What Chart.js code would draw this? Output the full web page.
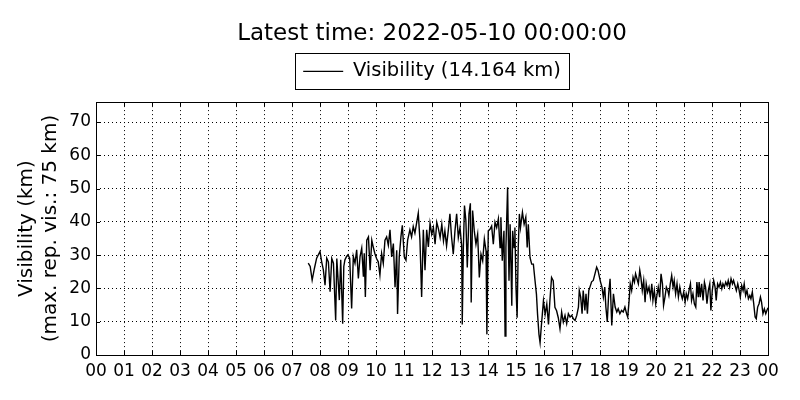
<!DOCTYPE html>
<html>
<head>
<meta charset="utf-8">
<script src="https://cdn.jsdelivr.net/npm/chart.js@4.4.0/dist/chart.umd.min.js"></script>
<style>
  html, body { margin: 0; padding: 0; background: #fff; }
  #wrap { width: 800px; height: 400px; }
</style>
</head>
<body>
<div id="wrap"><canvas id="visChart"></canvas></div>
<script>
var latestTime = "2022-05-10 00:00:00";
var latestVis = 14.164;
var maxRepVis = 75;
var hourTicks = [0, 1, 2, 3, 4, 5, 6, 7, 8, 9, 10, 11, 12, 13, 14, 15, 16, 17, 18, 19, 20, 21, 22, 23, 24];
var visTicks = [0, 10, 20, 30, 40, 50, 60, 70];

// time of day in hours
var times = [
  7.58, 7.65, 7.72, 7.80, 7.88, 8.00, 8.06, 8.12, 8.18, 8.24, 8.30, 8.36, 8.42, 8.48, 8.56, 8.60,
  8.69, 8.74, 8.81, 8.85, 8.89, 8.95, 9.00, 9.06, 9.13, 9.19, 9.25, 9.31, 9.37, 9.43, 9.49, 9.55,
  9.58, 9.62,
  9.67, 9.73, 9.79, 9.85, 9.90, 9.96, 10.02, 10.08, 10.14, 10.20, 10.26, 10.32, 10.38, 10.44,
  10.50, 10.56, 10.62, 10.68, 10.74, 10.77, 10.83, 10.89, 10.94, 11.01, 11.07, 11.13, 11.21,
  11.27, 11.33, 11.39, 11.45, 11.51, 11.57, 11.63, 11.69, 11.75, 11.81, 11.87, 11.93,
  11.99, 12.05, 12.11, 12.17, 12.23, 12.29, 12.35, 12.41, 12.46, 12.52, 12.58, 12.64, 12.70,
  12.76, 12.82, 12.88, 12.94, 13.00, 13.06, 13.08, 13.12, 13.16, 13.21, 13.26, 13.32, 13.37,
  13.40, 13.45, 13.51, 13.57, 13.63, 13.69, 13.75, 13.81, 13.87, 13.93, 13.96, 14.01, 14.07,
  14.13, 14.19, 14.25,
  14.31, 14.37, 14.43, 14.46, 14.51, 14.57, 14.61, 14.64, 14.70, 14.75, 14.79, 14.85, 14.88,
  14.93, 14.96, 15.00, 15.04, 15.08, 15.12, 15.16, 15.23, 15.29, 15.35, 15.40, 15.44, 15.50,
  15.56, 15.62, 15.68, 15.73, 15.77, 15.82, 15.86, 15.90, 15.94, 15.98, 16.04, 16.10, 16.16,
  16.21, 16.27, 16.33, 16.39, 16.45, 16.51, 16.57,
  16.63, 16.69, 16.75, 16.81, 16.87, 16.93, 16.99, 17.05, 17.11, 17.17, 17.23, 17.26, 17.31,
  17.36, 17.40, 17.46, 17.50, 17.55, 17.60, 17.64, 17.70, 17.76, 17.82, 17.88, 17.93, 17.98,
  18.02, 18.07, 18.12, 18.17, 18.21, 18.26, 18.31, 18.36, 18.42, 18.48, 18.54, 18.60, 18.65,
  18.71, 18.77, 18.83, 18.89, 18.95,
  18.99, 19.04, 19.08, 19.13, 19.18, 19.23, 19.27, 19.32, 19.37, 19.42, 19.46, 19.51, 19.56,
  19.61, 19.65, 19.70, 19.75, 19.80, 19.85, 19.89, 19.94, 19.99, 20.04, 20.08, 20.13, 20.18,
  20.23, 20.27, 20.32, 20.37, 20.42, 20.46, 20.51, 20.56, 20.61, 20.65, 20.70, 20.75, 20.80,
  20.85, 20.89, 20.94, 20.99, 21.04, 21.08, 21.13, 21.18, 21.23, 21.27, 21.32, 21.37, 21.42,
  21.46, 21.51,
  21.54, 21.58, 21.63, 21.68, 21.73, 21.77, 21.82, 21.87, 21.92, 21.96, 22.01, 22.06, 22.11,
  22.15, 22.20, 22.25, 22.30, 22.35, 22.39, 22.44, 22.49, 22.54, 22.58, 22.63, 22.68, 22.73,
  22.77, 22.82, 22.87, 22.92, 22.96, 23.01, 23.06, 23.11, 23.15, 23.20, 23.25, 23.30, 23.35,
  23.39, 23.44, 23.49, 23.54, 23.58, 23.63, 23.68, 23.73, 23.77, 23.82, 23.87, 23.92, 23.96,
  24.00
];

// visibility in km
var visibility = [
  27.6, 26.6, 22.5, 26.0, 29.1, 31.1, 28.0, 25.6, 21.0, 29.1, 28.0, 19.0, 29.0, 27.6, 10.4, 29.0,
  16.5, 28.6, 9.4, 26.6, 28.6, 29.6, 30.1, 29.1, 14.0, 29.6, 27.6, 31.6, 23.0, 29.6, 32.1, 23.5,
  30.6, 17.4,
  34.5, 35.5, 25.5, 34.5, 32.5, 30.5, 29.0, 28.0, 24.0, 30.5, 27.5, 34.5, 35.5, 33.0,
  37.6, 29.5, 33.5, 20.4, 31.5, 12.3, 29.5, 35.5, 39.0, 29.5, 28.5, 34.5, 37.6,
  35.5, 38.6, 36.6, 39.6, 42.6, 34.5, 17.4, 37.6, 25.5, 37.6, 32.5, 39.6,
  36.3, 38.3, 33.3, 39.9, 37.9, 35.3, 39.3, 34.3, 37.3, 32.8, 37.3, 42.4, 35.3,
  30.3, 37.3, 42.4, 35.3, 38.3, 32.8, 9.2, 32.3, 44.9, 40.4, 26.3, 42.4, 45.6,
  15.8, 43.4, 37.3, 33.3, 36.3, 23.3, 30.3, 28.3, 34.8, 31.3, 6.2, 37.3, 37.8,
  38.8, 33.3, 39.9,
  38.3, 40.9, 32.3, 41.4, 28.3, 37.3, 5.7, 32.3, 50.4, 22.3, 39.3, 14.8, 37.3,
  32.3, 38.3, 20.3, 11.2, 32.3, 42.4, 38.3, 42.9, 39.3, 41.4, 32.3, 39.3, 29.3,
  27.3, 27.3, 22.3, 18.3, 12.2, 6.2, 3.7, 8.2, 12.2, 16.3, 12.2, 15.3, 9.2,
  16.3, 23.3, 22.3, 14.3, 13.3, 11.2, 7.9,
  12.9, 9.9, 11.9, 9.4, 12.4, 11.4, 11.9, 10.9, 10.4, 11.9, 14.4, 19.4, 17.4,
  12.4, 19.4, 13.4, 18.4, 12.4, 19.4, 20.4, 22.0, 22.4, 24.4, 26.4, 25.4, 23.4,
  21.9, 20.4, 17.4, 20.4, 14.4, 9.9, 18.4, 22.9, 8.9, 18.4, 14.4, 12.9, 13.9,
  12.4, 13.4, 12.9, 14.4, 12.4,
  11.4, 16.4, 21.4, 19.4, 23.4, 21.9, 24.4, 22.9, 21.4, 25.5, 23.4, 19.4, 22.4,
  15.9, 21.4, 18.9, 20.4, 17.4, 21.4, 16.4, 19.4, 15.4, 18.4, 20.4, 17.4, 24.4,
  21.4, 14.9, 17.4, 20.4, 19.4, 17.9, 21.4, 23.9, 20.4, 22.4, 18.4, 21.4, 17.4,
  20.4, 18.4, 16.9, 18.9, 15.9, 18.4, 16.9, 19.4, 21.4, 16.4, 18.4, 15.4, 14.4,
  21.9, 17.4,
  21.9, 17.4, 21.4, 16.4, 21.9, 20.4, 15.4, 19.4, 21.4, 13.4, 19.4, 22.4, 20.4,
  16.4, 21.4, 20.4, 21.9, 19.9, 21.4, 20.4, 21.9, 20.9, 22.4, 20.4, 22.9, 21.4,
  22.4, 20.9, 19.4, 21.4, 19.9, 17.4, 20.9, 19.4, 21.4, 17.9, 19.4, 16.9, 17.9,
  16.9, 18.9, 15.4, 11.4, 10.9, 14.4, 15.4, 17.4, 15.9, 12.4, 13.9, 12.4, 13.4,
  14.164
];

var points = [];
for (var i = 0; i < times.length; i++) {
  points.push({ x: times[i], y: visibility[i] });
}

Chart.defaults.font.family = "'DejaVu Sans', sans-serif";
Chart.defaults.color = '#000';

// black frame around plot area, inward ticks, and box round the legend
var framePlugin = {
  id: 'frame',
  afterDraw: function(chart) {
    var ctx = chart.ctx;
    var a = chart.chartArea;
    ctx.save();
    ctx.strokeStyle = '#000';
    ctx.lineWidth = 1;
    ctx.beginPath();
    hourTicks.forEach(function(h) {
      var px = Math.round(chart.scales.x.getPixelForValue(h)) + 0.5;
      ctx.moveTo(px, a.bottom); ctx.lineTo(px, a.bottom - 4);
      ctx.moveTo(px, a.top); ctx.lineTo(px, a.top + 4);
    });
    visTicks.forEach(function(v) {
      var py = Math.round(chart.scales.y.getPixelForValue(v)) + 0.5;
      ctx.moveTo(a.left, py); ctx.lineTo(a.left + 4, py);
      ctx.moveTo(a.right, py); ctx.lineTo(a.right - 4, py);
    });
    ctx.stroke();
    ctx.strokeRect(Math.round(a.left) + 0.5, Math.round(a.top) + 0.5,
      Math.round(a.right - a.left), Math.round(a.bottom - a.top));
    var hb = chart.legend.legendHitBoxes[0];
    if (hb) {
      var cy = hb.top + hb.height / 2;
      ctx.strokeRect(Math.round(hb.left - 8) + 0.5, Math.round(cy - 18) + 0.5,
        Math.round(hb.width + 16), 36);
    }
    ctx.restore();
  }
};

var ctxV = document.getElementById('visChart').getContext('2d');
var visChart = new Chart(ctxV, {
  type: 'line',
  data: {
    datasets: [{
      label: 'Visibility (' + latestVis.toFixed(3) + ' km)',
      data: points,
      borderColor: '#000',
      backgroundColor: '#000',
      borderWidth: 1.4,
      pointRadius: 0,
      tension: 0,
      fill: false
    }]
  },
  options: {
    responsive: true,
    maintainAspectRatio: false,
    animation: false,
    layout: { padding: { left: 15, right: 32, top: 0, bottom: 0 } },
    plugins: {
      title: {
        display: true,
        fullSize: false,
        text: 'Latest time: ' + latestTime,
        color: '#000',
        font: { size: 23, weight: 'normal' },
        padding: { top: 20, bottom: 4 }
      },
      legend: {
        display: true,
        fullSize: false,
        position: 'top',
        labels: {
          color: '#000',
          font: { size: 19.5 },
          usePointStyle: true,
          pointStyle: 'line',
          pointStyleWidth: 40,
          padding: 10
        }
      },
      tooltip: { enabled: false }
    },
    scales: {
      x: {
        type: 'linear',
        min: 0,
        max: 24,
        afterBuildTicks: function(scale) {
          scale.ticks = hourTicks.map(function(h) { return { value: h }; });
        },
        afterFit: function(scale) { scale.height = 45; },
        ticks: {
          color: '#000',
          font: { size: 17 },
          padding: 6,
          maxRotation: 0,
          autoSkip: false,
          callback: function(value) {
            var h = value % 24;
            return (h < 10 ? '0' : '') + h;
          }
        },
        grid: { color: '#000', lineWidth: 1, drawTicks: false },
        border: { display: false, dash: [1, 3] }
      },
      // empty spacer between legend and plot
      xTop: {
        type: 'linear',
        position: 'top',
        min: 0,
        max: 24,
        afterFit: function(scale) { scale.height = 11; },
        ticks: { display: false },
        grid: { display: false, drawTicks: false },
        border: { display: false }
      },
      y: {
        min: 0,
        max: 76,
        afterBuildTicks: function(scale) {
          scale.ticks = visTicks.map(function(v) { return { value: v }; });
        },
        afterFit: function(scale) { scale.width = 81; },
        ticks: {
          color: '#000',
          font: { size: 17 },
          padding: 5
        },
        title: {
          display: true,
          text: ['Visibility (km)', '(max. rep. vis.: ' + maxRepVis + ' km)'],
          color: '#000',
          font: { size: 20 },
          padding: { top: 0, bottom: 4 }
        },
        grid: { color: '#000', lineWidth: 1, drawTicks: false },
        border: { display: false, dash: [1, 3] }
      }
    }
  },
  plugins: [framePlugin]
});
</script>
</body>
</html>
